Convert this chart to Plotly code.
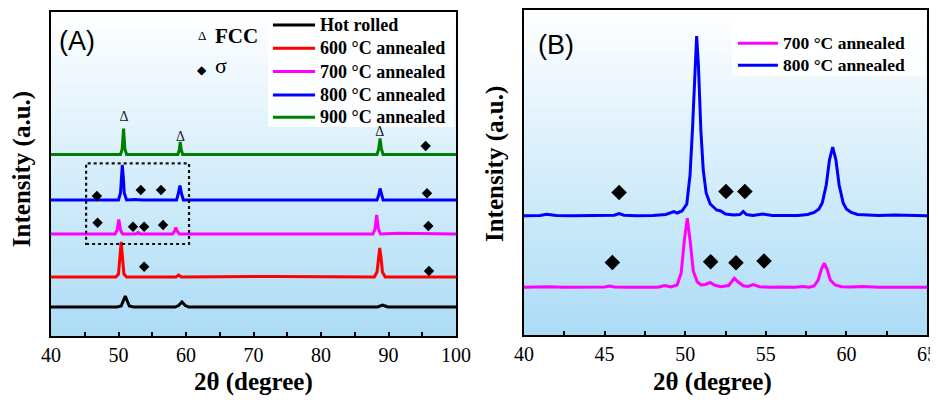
import plotly.graph_objects as go

# ---------------- Panel A data (2theta, intensity a.u.) ----------------
a_black_x = [40, 49.8, 50.4, 50.7, 51.0, 51.3, 51.6, 52.2, 58.4, 58.9, 59.4, 59.9, 60.4, 88.4, 88.8, 89.1, 89.5, 89.9, 100]
a_black_y = [29, 29, 30, 35, 40, 35, 30, 29, 29, 30.5, 34, 30.5, 29, 29, 30, 31, 30, 29, 29]

a_red_x = [40, 49.6, 50.0, 50.2, 50.4, 50.6, 50.8, 51.2, 58.5, 58.9, 59.3, 73, 87.9, 88.3, 88.5, 88.7, 88.9, 89.1, 89.5, 100]
a_red_y = [59, 59, 62, 78, 94, 78, 62, 59, 59, 61, 59, 59.5, 59, 64, 78, 88, 78, 64, 59, 59]

a_mag_x = [40, 49.5, 49.8, 50.05, 50.3, 50.6, 52.5, 52.9, 53.3, 58.0, 58.3, 58.5, 58.7, 59.0, 87.7, 88.0, 88.25, 88.5, 88.8, 91.5, 100]
a_mag_y = [102, 102, 106, 116.5, 106, 102, 102, 103.5, 102, 102, 105, 108.5, 105, 102, 102, 107, 121, 107, 102, 102.8, 102]

a_blue_x = [40, 50.0, 50.3, 50.45, 50.56, 50.7, 50.85, 51.2, 52.5, 53.5, 58.6, 58.85, 59.1, 59.35, 59.6, 88.3, 88.55, 88.75, 88.95, 89.2, 100]
a_blue_y = [136, 136, 143, 160, 171, 160, 143, 136, 136.5, 136, 136, 142, 150.5, 142, 136, 136, 141, 147.5, 141, 136, 136]

a_green_x = [40, 50.3, 50.55, 50.75, 50.95, 51.2, 58.8, 59.0, 59.15, 59.3, 59.5, 88.3, 88.55, 88.75, 88.95, 89.2, 100]
a_green_y = [181.5, 181.5, 187, 207.5, 187, 181.5, 181.5, 186, 194, 186, 181.5, 181.5, 187, 197.5, 187, 181.5, 181.5]

a_fcc_x = [50.8, 59.2, 88.7]
a_fcc_y = [219, 199, 204]

a_sigma_x = [95.5, 46.8, 53.3, 56.3, 95.7, 46.9, 52.15, 53.8, 56.6, 95.9, 53.8, 96.0]
a_sigma_y = [190, 140, 146, 146, 142.7, 113.3, 109.3, 109.3, 111, 110, 69.3, 65]

a_box = [45.2, 60.45, 92, 172.7]  # x0, x1, y0, y1

a_names = ["Hot rolled", "600 °C annealed", "700 °C annealed", "800 °C annealed", "900 °C annealed"]

# ---------------- Panel B data ----------------
b_blue_x = [40, 41.0, 41.4, 42.0, 43.0, 44.0, 45.0, 45.6, 45.9, 46.2, 47.0, 48.0, 48.8, 49.1, 49.3, 49.5, 49.8,
            50.1, 50.3, 50.45, 50.6, 50.71, 50.82, 50.97, 51.12, 51.3, 51.55, 51.95, 52.2, 52.5, 53.0, 53.4, 53.6,
            53.8, 54.2, 54.8, 55.4, 56.2, 57.0, 57.6, 58.0, 58.3, 58.5, 58.75, 58.95, 59.15, 59.35, 59.55, 59.8,
            60.0, 60.3, 60.7, 61.3, 62.0, 63.0, 64.0, 65.0]
b_blue_y = [119.3, 119.5, 120.8, 119.5, 119.3, 119.6, 119.3, 119.8, 121.5, 119.8, 119.3, 119.5, 120.5, 122, 123.5,
            122, 124, 131, 160, 205, 270, 299, 270, 205, 165, 142, 131, 125, 124, 121, 120, 120.5, 123.5, 120.5,
            119.6, 121, 119.5, 119.8, 119.5, 120.5, 122.5, 126, 132, 150, 175, 188, 175, 150, 132, 126, 122.5,
            120.5, 119.8, 119.5, 120, 119.3, 119.3]

b_mag_x = [40, 41.5, 42.5, 43.5, 44.5, 45.0, 45.3, 45.6, 46.5, 47.5, 48.3, 48.75, 49.1, 49.5, 49.75, 49.95, 50.13,
           50.3, 50.5, 50.75, 51.0, 51.25, 51.54, 51.8, 52.2, 52.7, 52.9, 53.05, 53.25, 53.6, 53.9, 54.23, 54.6,
           55.2, 56.0, 56.8, 57.3, 57.7, 58.0, 58.25, 58.45, 58.63, 58.8, 59.0, 59.3, 59.7, 60.3, 61.0, 62.0,
           63.0, 64.0, 65.0]
b_mag_y = [47.7, 48.2, 47.7, 48.0, 47.7, 48.0, 49.0, 48.0, 47.7, 48.0, 47.8, 49.5, 48.0, 50, 62, 95, 116.7, 95, 64,
           53, 50, 50.5, 52.5, 50, 48.2, 49.5, 54, 56.7, 53.5, 49.2, 48.5, 50.5, 48.3, 47.7, 48.0, 47.7, 48.5, 47.7,
           49, 55, 66, 71.7, 66, 55, 50, 48.3, 47.9, 48.5, 47.7, 48.0, 47.7, 47.7]

b_sigma_x = [45.9, 52.53, 53.7, 45.48, 51.58, 53.15, 54.89]
b_sigma_y = [142.5, 143.5, 143.5, 72.5, 73.3, 72.3, 74]

b_names = ["700 °C annealed", "800 °C annealed"]

# ---------------- styles / geometry ----------------
SERIF = "Liberation Serif"
C_BLACK, C_RED, C_MAG, C_BLUE, C_GREEN = "#000000", "#ff0000", "#ff00ff", "#0000ff", "#008000"
LW = 3

# the page body adds an 8 px offset; size the figure so it fills the 938x400 window
OFF = 8
FIG_W, FIG_H = 938 - OFF, 400 - OFF


def xdom(p0, p1):
    return [(p0 - OFF) / FIG_W, (p1 - OFF) / FIG_W]


def ydom(top, bottom):
    return [(400 - bottom) / FIG_H, (400 - top) / FIG_H]


fig = go.Figure()


def line(x, y, color, xa, ya):
    fig.add_trace(go.Scatter(x=x, y=y, mode="lines", line=dict(color=color, width=LW),
                             xaxis=xa, yaxis=ya, showlegend=False, hoverinfo="skip"))


line(a_black_x, a_black_y, C_BLACK, "x", "y")
line(a_red_x, a_red_y, C_RED, "x", "y")
line(a_mag_x, a_mag_y, C_MAG, "x", "y")
line(a_blue_x, a_blue_y, C_BLUE, "x", "y")
line(a_green_x, a_green_y, C_GREEN, "x", "y")

fig.add_trace(go.Scatter(x=a_fcc_x, y=a_fcc_y, mode="text", text=["Δ"] * len(a_fcc_x),
                         textfont=dict(family=SERIF, size=14, color="#222"), xaxis="x", yaxis="y",
                         showlegend=False, hoverinfo="skip"))
fig.add_trace(go.Scatter(x=a_sigma_x, y=a_sigma_y, mode="markers",
                         marker=dict(symbol="diamond", size=8, color="black"), xaxis="x", yaxis="y",
                         showlegend=False, hoverinfo="skip"))

line(b_mag_x, b_mag_y, C_MAG, "x2", "y2")
line(b_blue_x, b_blue_y, C_BLUE, "x2", "y2")
fig.add_trace(go.Scatter(x=b_sigma_x, y=b_sigma_y, mode="markers",
                         marker=dict(symbol="diamond", size=12, color="black"), xaxis="x2", yaxis="y2",
                         showlegend=False, hoverinfo="skip"))

shapes = []
annotations = []

# gradient background bands
N = 60
top_c = (255, 255, 255)
bot_c = (172, 220, 246)
for xr, yr in [("x domain", "y domain"), ("x2 domain", "y2 domain")]:
    for i in range(N):
        t = (i + 0.5) / N  # 0 at bottom, 1 at top
        c = tuple(int(round(bot_c[k] + (top_c[k] - bot_c[k]) * t)) for k in range(3))
        shapes.append(dict(type="rect", xref=xr, yref=yr, x0=0, x1=1, y0=i / N, y1=(i + 1) / N + 0.002,
                           fillcolor="rgb(%d,%d,%d)" % c, line=dict(width=0), layer="below"))

# legend boxes (white)
shapes.append(dict(type="rect", xref="x domain", yref="y domain", x0=0.536, x1=0.995, y0=0.645, y1=0.997,
                   fillcolor="rgba(255,255,255,0.85)", line=dict(width=0), layer="below"))
shapes.append(dict(type="rect", xref="x2 domain", yref="y2 domain", x0=0.516, x1=0.995, y0=0.796, y1=0.997,
                   fillcolor="rgba(255,255,255,0.85)", line=dict(width=0), layer="below"))

# dotted box
shapes.append(dict(type="rect", xref="x", yref="y", x0=a_box[0], x1=a_box[1], y0=a_box[2], y1=a_box[3],
                   line=dict(color="#111", width=2.2, dash="dot"), fillcolor="rgba(0,0,0,0)"))


def ann(xr, yr, x, y, text, font, xanchor="center", yanchor="middle", **kw):
    annotations.append(dict(xref=xr, yref=yr, x=x, y=y, text=text, showarrow=False,
                            xanchor=xanchor, yanchor=yanchor, font=font, **kw))


# custom legends
a_colors = [C_BLACK, C_RED, C_MAG, C_BLUE, C_GREEN]
a_leg_y = [0.960, 0.888, 0.816, 0.744, 0.675]
for name, col, yy in zip(a_names, a_colors, a_leg_y):
    shapes.append(dict(type="line", xref="x domain", yref="y domain", x0=0.548, x1=0.652, y0=yy, y1=yy,
                       line=dict(color=col, width=3)))
    ann("x domain", "y domain", 0.660, yy, name,
        dict(family=SERIF, size=18, color="black", weight="bold"), xanchor="left")

b_colors = [C_MAG, C_BLUE]
b_leg_y = [0.898, 0.830]
for name, col, yy in zip(b_names, b_colors, b_leg_y):
    shapes.append(dict(type="line", xref="x2 domain", yref="y2 domain", x0=0.531, x1=0.630, y0=yy, y1=yy,
                       line=dict(color=col, width=3)))
    ann("x2 domain", "y2 domain", 0.638, yy, name,
        dict(family=SERIF, size=17.5, color="black", weight="bold"), xanchor="left")

# phase key and panel labels
ann("x domain", "y domain", 0.373, 0.926, "Δ", dict(family=SERIF, size=13, color="black"))
ann("x domain", "y domain", 0.400, 0.926, "FCC", dict(family=SERIF, size=21, color="black", weight="bold"),
    xanchor="left")
ann("x domain", "y domain", 0.372, 0.821, "◆", dict(family="DejaVu Sans", size=12, color="black"))
ann("x domain", "y domain", 0.400, 0.835, "σ", dict(family=SERIF, size=22, color="black"), xanchor="left")
ann("x domain", "y domain", 0.064, 0.910, "(A)", dict(family="Liberation Sans", size=27, color="black"))
ann("x2 domain", "y2 domain", 0.079, 0.892, "(B)", dict(family="Liberation Sans", size=27, color="black"))

# axis titles
for xr, yr, xt, yt, xy, yy in [("x domain", "y domain", 0.5, -0.142, -0.0716, 0.515),
                                ("x2 domain", "y2 domain", 0.467, -0.145, -0.072, 0.526)]:
    ann(xr, yr, xt, yt, "2θ (degree)", dict(family=SERIF, size=25, color="black", weight="bold"))
    ann(xr, yr, xy, yy, "Intensity (a.u.)", dict(family=SERIF, size=25, color="black", weight="bold"),
        textangle=-90)

axis_common = dict(showline=True, mirror=True, linecolor="black", linewidth=2, showgrid=False,
                   zeroline=False, automargin=False)

fig.update_layout(
    width=FIG_W, height=FIG_H,
    margin=dict(l=0, r=0, t=0, b=0),
    paper_bgcolor="white", plot_bgcolor="rgba(0,0,0,0)",
    xaxis=dict(domain=xdom(51, 456), range=[40, 100], dtick=10, tick0=40, ticks="inside",
               ticklen=4, tickwidth=2, tickcolor="black",
               minor=dict(dtick=5, tick0=40, ticks="inside", ticklen=4, tickwidth=2, tickcolor="black"),
               tickfont=dict(family=SERIF, size=20, color="black"), anchor="y", **axis_common),
    yaxis=dict(domain=ydom(12, 336), range=[0, 324], showticklabels=False, ticks="",
               anchor="x", **axis_common),
    xaxis2=dict(domain=xdom(524, 927), range=[40, 65], dtick=5, tick0=40, ticks="inside",
                ticklen=4, tickwidth=2, tickcolor="black",
                minor=dict(dtick=2.5, tick0=40, ticks="inside", ticklen=4, tickwidth=2, tickcolor="black"),
                tickfont=dict(family=SERIF, size=20, color="black"), anchor="y2", **axis_common),
    yaxis2=dict(domain=ydom(10, 335), range=[0, 325], showticklabels=False, ticks="",
                anchor="x2", **axis_common),
    shapes=shapes, annotations=annotations,
)

fig.write_html("out.html")
